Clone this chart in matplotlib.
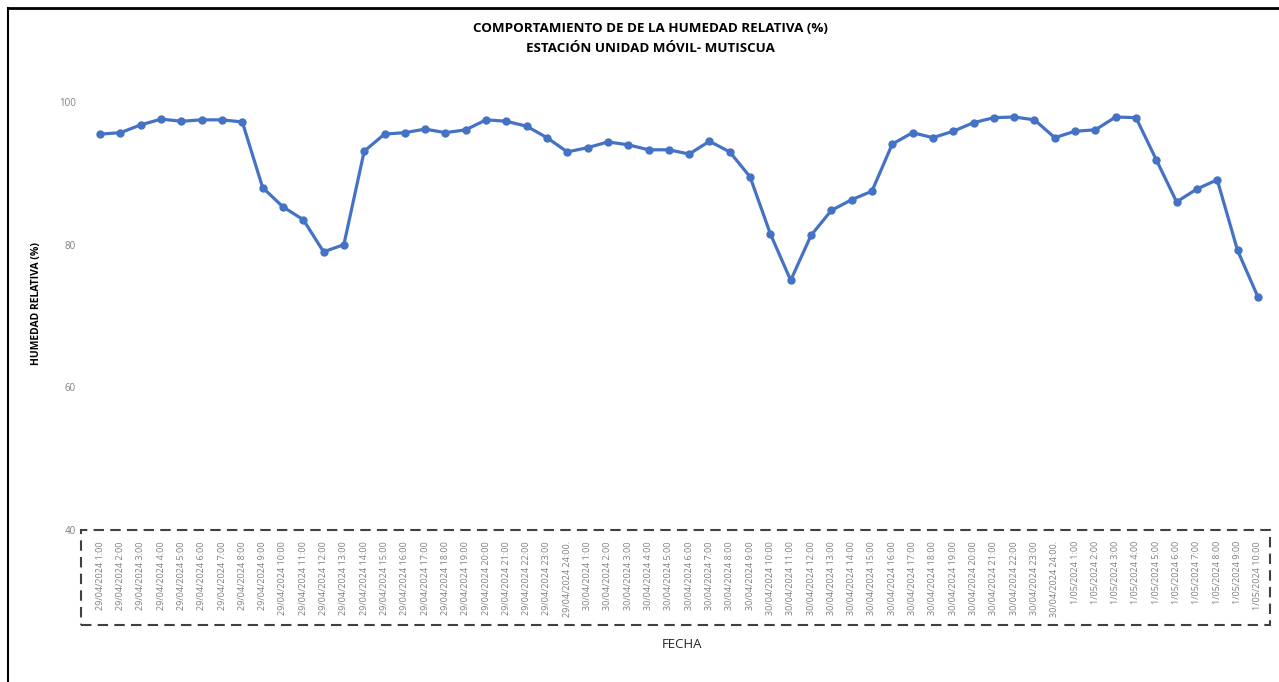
import matplotlib.pyplot as plt
from matplotlib.patches import Rectangle
from matplotlib.lines import Line2D

plt.rcParams['font.family'] = ['Open Sans', 'DejaVu Sans']

# Horas de cada día
horas_29 = [f"29/04/2024 {h}:00" for h in range(1, 24)] + ["29/04/2024 24:00."]
horas_30 = [f"30/04/2024 {h}:00" for h in range(1, 24)] + ["30/04/2024 24:00."]
horas_01 = [f"1/05/2024 {h}:00" for h in range(1, 11)]
fechas = horas_29 + horas_30 + horas_01

humedad = [
    95.5, 95.7, 96.8, 97.6, 97.3, 97.5, 97.5, 97.2, 88.0, 85.3, 83.5, 79.0,
    80.0, 93.1, 95.5, 95.7, 96.2, 95.7, 96.1, 97.5, 97.3, 96.6, 95.0, 93.0,
    93.6, 94.4, 94.0, 93.3, 93.3, 92.7, 94.5, 93.0, 89.5, 81.5, 75.0, 81.3,
    84.8, 86.3, 87.5, 94.1, 95.7, 95.0, 95.9, 97.1, 97.8, 97.9, 97.5, 95.0,
    95.9, 96.1, 97.9, 97.8, 91.9, 86.0, 87.8, 89.1, 79.2, 72.7,
]

W, H = 1279, 682
fig = plt.figure(figsize=(W / 100, H / 100), dpi=100)
ax = fig.add_axes([90 / W, 1 - 530 / H, (1268 - 90) / W, (530 - 102) / H])

x = list(range(len(fechas)))
ax.plot(x, humedad, color='#4472C4', lw=2.3, marker='o', ms=5)

ax.set_xlim(-0.5, len(fechas) - 0.5)
ax.set_ylim(40, 100)
ax.set_yticks([40, 60, 80, 100])
ax.tick_params(axis='y', length=0, pad=10, labelsize=7, labelcolor='#7f7f7f')
ax.set_xticks(x)
ax.set_xticklabels(fechas, rotation=90, fontsize=6.5, color='#7f7f7f')
ax.tick_params(axis='x', length=0, pad=8)
for s in ax.spines.values():
    s.set_visible(False)

fig.text(37 / W, 1 - 304 / H, 'HUMEDAD RELATIVA (%)', rotation=90, ha='center', va='center',
         fontsize=7.5, fontweight='bold')
fig.text(682 / W, 1 - 645 / H, 'FECHA', ha='center', va='center', fontsize=9.5, color='#262626')

fig.text(650 / W, 1 - 29 / H, 'COMPORTAMIENTO DE DE LA HUMEDAD RELATIVA (%)',
         ha='center', va='center', fontsize=9.6, fontweight='bold')
fig.text(650 / W, 1 - 48 / H, 'ESTACIÓN UNIDAD MÓVIL- MUTISCUA',
         ha='center', va='center', fontsize=9.6, fontweight='bold')

# Recuadro punteado de las etiquetas
fig.patches.append(Rectangle((81 / W, 1 - 625 / H), (1270 - 81) / W, (625 - 530) / H,
                             transform=fig.transFigure, fill=False, ec='#404040',
                             ls=(0, (5, 3)), lw=1.5))
# Borde de la imagen
fig.lines.append(Line2D([8 / W, 1], [1 - 8 / H, 1 - 8 / H], transform=fig.transFigure, color='black', lw=2))
fig.lines.append(Line2D([8 / W, 8 / W], [0, 1 - 8 / H], transform=fig.transFigure, color='black', lw=1.5))

fig.savefig('out.png', dpi=100)
